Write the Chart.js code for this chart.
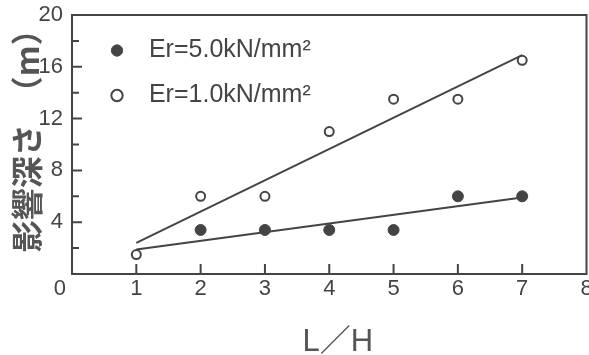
<!DOCTYPE html>
<html>
<head>
<meta charset="utf-8">
<script src="https://cdn.jsdelivr.net/npm/chart.js@4/dist/chart.umd.min.js"></script>
<style>
  html, body { margin: 0; padding: 0; background: #fff; overflow: hidden; }
  #wrap { position: relative; width: 593px; height: 355px; }
</style>
</head>
<body>
<div id="wrap"><canvas id="chart"></canvas></div>
<script>
// L/H values and influence depth (m)
const er5X = [2, 3, 4, 5, 6, 7]
const er5Y = [3.4, 3.4, 3.4, 3.4, 6.0, 6.0]
const er1X = [1, 2, 3, 4, 5, 6, 7]
const er1Y = [1.5, 6.0, 6.0, 11.0, 13.5, 13.5, 16.5]

// fitted straight lines (end points)
const fitX = [1, 7]
const fit5Y = [1.9, 5.9]
const fit1Y = [2.4, 16.9]

const xTicks = [1, 2, 3, 4, 5, 6, 7]
const yTicks = [2, 4, 6, 8, 10, 12, 14, 16, 18]

const ink = '#444'
const pts = (xs, ys) => xs.map((x, i) => ({ x, y: ys[i] }))

// frame + inward tick marks, legend nudged into the plot corner
const frame = {
  id: 'frame',
  afterLayout(chart) {
    chart.legend.left += 12.5
    chart.legend.top += 18
  },
  afterDraw(chart) {
    const { ctx, chartArea: a, scales: { x, y } } = chart
    ctx.save()
    ctx.strokeStyle = ink
    ctx.lineWidth = 2
    ctx.strokeRect(a.left, a.top, a.right - a.left, a.bottom - a.top)
    ctx.beginPath()
    xTicks.forEach(v => {
      const px = x.getPixelForValue(v)
      ctx.moveTo(px, a.bottom)
      ctx.lineTo(px, a.bottom - 10)
    })
    yTicks.forEach(v => {
      const py = y.getPixelForValue(v)
      ctx.moveTo(a.left, py)
      ctx.lineTo(a.left + (v % 4 === 0 ? 10 : 7), py)
    })
    ctx.stroke()
    ctx.restore()
  },
}

new Chart(document.getElementById('chart'), {
  type: 'scatter',
  data: {
    datasets: [
      {
        label: '\u00a0Er=5.0kN/mm²',
        data: pts(er5X, er5Y),
        pointRadius: 5.5,
        backgroundColor: ink,
        borderColor: ink,
        borderWidth: 1,
      },
      {
        label: '\u00a0Er=1.0kN/mm²',
        data: pts(er1X, er1Y),
        pointRadius: 4.5,
        backgroundColor: '#fff',
        borderColor: ink,
        borderWidth: 2,
      },
      {
        label: 'fit5',
        data: pts(fitX, fit5Y),
        showLine: true,
        pointRadius: 0,
        borderColor: ink,
        borderWidth: 2,
      },
      {
        label: 'fit1',
        data: pts(fitX, fit1Y),
        showLine: true,
        pointRadius: 0,
        borderColor: ink,
        borderWidth: 2,
      },
    ],
  },
  options: {
    responsive: true,
    maintainAspectRatio: false,
    animation: false,
    layout: { padding: { left: 0, top: 15, right: 0, bottom: 0 } },
    plugins: {
      tooltip: { enabled: false },
      legend: {
        position: 'chartArea',
        align: 'start',
        labels: {
          filter: item => item.text.includes('Er'),
          usePointStyle: true,
          boxWidth: 50,
          boxHeight: 8,
          padding: 20,
          color: ink,
          font: { family: 'Liberation Sans', size: 25 },
        },
      },
    },
    scales: {
      x: {
        type: 'linear',
        min: 0,
        max: 8,
        border: { display: false },
        grid: { display: false, drawTicks: false },
        afterFit: s => {
          s.height = 81
          s.paddingLeft = 0
          s.paddingRight = 3
        },
        ticks: {
          stepSize: 1,
          padding: 2,
          color: ink,
          font: { family: 'Liberation Sans', size: 22 },
          callback: v => (v === 0 ? '0\u00a0\u00a0\u00a0\u00a0' : v),
        },
        title: {
          display: true,
          text: '\u00a0\u00a0L／H',
          color: '#555',
          padding: { top: 0, bottom: 0 },
          font: { family: "'Liberation Sans', 'Noto Sans CJK JP'", size: 31, lineHeight: 0.8 },
        },
      },
      y: {
        min: 0,
        max: 20,
        border: { display: false },
        grid: { display: false, drawTicks: false },
        afterFit: s => {
          s.width = 72
          s.paddingTop = 0
          s.paddingBottom = 0
        },
        ticks: {
          stepSize: 2,
          padding: 9,
          color: ink,
          font: { family: 'Liberation Sans', size: 22 },
          callback: v => (v % 4 === 0 && v !== 0 ? v : ''),
        },
        title: {
          display: true,
          text: '\u2002\u00a0影響深さ\u2002（m）',
          color: '#555',
          padding: { top: 8, bottom: 0 },
          font: { family: "'Noto Sans CJK JP'", size: 32, weight: 'bold' },
        },
      },
    },
  },
  plugins: [frame],
})
</script>
</body>
</html>
